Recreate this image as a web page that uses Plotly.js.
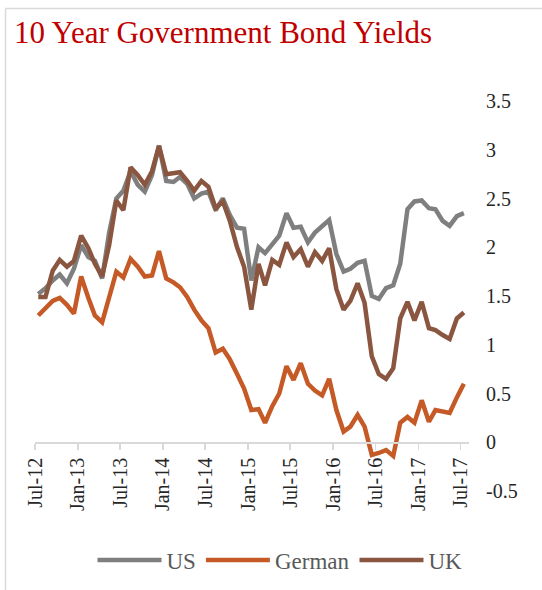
<!DOCTYPE html>
<html>
<head>
<meta charset="utf-8">
<script src="https://cdn.plot.ly/plotly-3.0.1.min.js"></script>
<style>
html,body{margin:0;padding:0;background:#fff;}
#chart{width:542px;height:590px;}
</style>
</head>
<body>
<div id="chart"></div>
<script>
const months = [
'2012-07-15','2012-08-15','2012-09-15','2012-10-15','2012-11-15','2012-12-15',
'2013-01-15','2013-02-15','2013-03-15','2013-04-15','2013-05-15','2013-06-15',
'2013-07-15','2013-08-15','2013-09-15','2013-10-15','2013-11-15','2013-12-15',
'2014-01-15','2014-02-15','2014-03-15','2014-04-15','2014-05-15','2014-06-15',
'2014-07-15','2014-08-15','2014-09-15','2014-10-15','2014-11-15','2014-12-15',
'2015-01-15','2015-02-15','2015-03-15','2015-04-15','2015-05-15','2015-06-15',
'2015-07-15','2015-08-15','2015-09-15','2015-10-15','2015-11-15','2015-12-15',
'2016-01-15','2016-02-15','2016-03-15','2016-04-15','2016-05-15','2016-06-15',
'2016-07-15','2016-08-15','2016-09-15','2016-10-15','2016-11-15','2016-12-15',
'2017-01-15','2017-02-15','2017-03-15','2017-04-15','2017-05-15','2017-06-15',
'2017-07-15'];

const us = [1.52,1.58,1.66,1.72,1.63,1.78,2.02,1.90,1.86,1.68,2.15,2.50,
2.58,2.78,2.64,2.57,2.74,3.04,2.68,2.67,2.72,2.65,2.50,2.55,
2.57,2.38,2.50,2.33,2.20,2.19,1.66,2.00,1.94,2.04,2.12,2.35,
2.20,2.21,2.05,2.15,2.22,2.28,1.93,1.75,1.78,1.84,1.86,1.50,
1.47,1.58,1.61,1.83,2.39,2.47,2.48,2.40,2.39,2.27,2.22,2.32,2.35];

const german = [1.30,1.37,1.45,1.48,1.41,1.32,1.70,1.48,1.30,1.23,1.50,1.75,
1.69,1.88,1.80,1.70,1.71,1.96,1.68,1.64,1.59,1.49,1.36,1.25,
1.17,0.92,0.96,0.85,0.70,0.55,0.33,0.34,0.20,0.37,0.50,0.78,
0.64,0.81,0.60,0.53,0.48,0.65,0.33,0.11,0.16,0.28,0.16,-0.13,
-0.11,-0.08,-0.14,0.20,0.26,0.20,0.43,0.21,0.33,0.32,0.30,0.46,0.60];

const uk = [1.49,1.49,1.76,1.87,1.80,1.86,2.12,1.99,1.83,1.70,2.02,2.48,
2.38,2.82,2.74,2.64,2.78,3.04,2.75,2.76,2.77,2.68,2.58,2.68,
2.62,2.40,2.47,2.27,2.00,1.80,1.36,1.83,1.61,1.87,1.82,2.05,
1.90,1.98,1.80,1.95,1.86,1.99,1.57,1.36,1.45,1.63,1.43,0.88,
0.70,0.65,0.76,1.27,1.44,1.25,1.44,1.17,1.15,1.10,1.06,1.27,1.33];

const yTickVals = [-0.5,0,0.5,1,1.5,2,2.5,3,3.5];
const yTickText = ['-0.5','0','0.5','1','1.5','2','2.5','3','3.5'];

const seriesNames = ['US','German','UK'];
const seriesColors = ['#7f7f7f','#c55a27','#8a5640'];
const seriesData = [us, german, uk];

const FONT = 'Liberation Serif, serif';

const traces = seriesNames.map((n,k)=>({
  x: months, y: seriesData[k], name: n, type:'scatter', mode:'lines',
  line:{color:seriesColors[k], width:4.5, shape:'linear'},
  hoverinfo:'skip'
}));

// plot area: px 35..469 horizontally, y -0.5..3.5 => px ~101..491
const L=35, R=73, T=101, B=99;
const pw = 542-L-R, ph = 590-T-B;
const px2x = p => (p-L)/pw;
const py2y = p => (590-B-p)/ph;

const layout = {
  width:542, height:590,
  margin:{l:L, r:R, t:T, b:B, pad:0},
  paper_bgcolor:'#ffffff', plot_bgcolor:'rgba(0,0,0,0)',
  font:{family:FONT, size:19, color:'#262626'},
  title:{text:'10 Year Government Bond Yields', font:{family:FONT, size:31, color:'#c00000'},
    xref:'container', yref:'container', x:14/542, xanchor:'left', y:1-32/590, yanchor:'middle'},
  showlegend:true,
  legend:{orientation:'h', xref:'container', yref:'container', x:280/542, xanchor:'center',
    y:1-560/590, yanchor:'middle', font:{family:FONT, size:23, color:'#595959'},
    itemwidth:64, tracegroupgap:0, bgcolor:'rgba(0,0,0,0)'},
  xaxis:{type:'date', range:['2012-07-01','2017-08-06'], anchor:'free', position:0.125,
    tick0:'2012-07-01', dtick:'M6', tickformat:'%b-%y', tickangle:-90,
    ticks:'outside', ticklen:6, tickcolor:'#d9d9d9', tickwidth:1.5,
    showline:true, linecolor:'#d9d9d9', linewidth:1.5, showgrid:false, zeroline:false,
    tickfont:{family:FONT, size:20, color:'#262626'}, fixedrange:true},
  yaxis:{range:[-0.5,3.5], side:'right', tickmode:'array', tickvals:yTickVals, ticktext:yTickText,
    showgrid:false, zeroline:false, showline:false, ticks:'', ticklabelstandoff:16,
    tickfont:{family:FONT, size:20, color:'#262626'}, fixedrange:true},
  shapes:[
    {type:'line', xref:'paper', yref:'paper', x0:px2x(5.5), x1:px2x(560), y0:py2y(8.5), y1:py2y(8.5),
      line:{color:'#d9d9d9', width:1.5}},
    {type:'line', xref:'paper', yref:'paper', x0:px2x(5.5), x1:px2x(5.5), y0:py2y(8.5), y1:py2y(600),
      line:{color:'#d9d9d9', width:1.5}}
  ]
};

Plotly.newPlot('chart', traces, layout, {staticPlot:true, displayModeBar:false});
</script>
</body>
</html>
